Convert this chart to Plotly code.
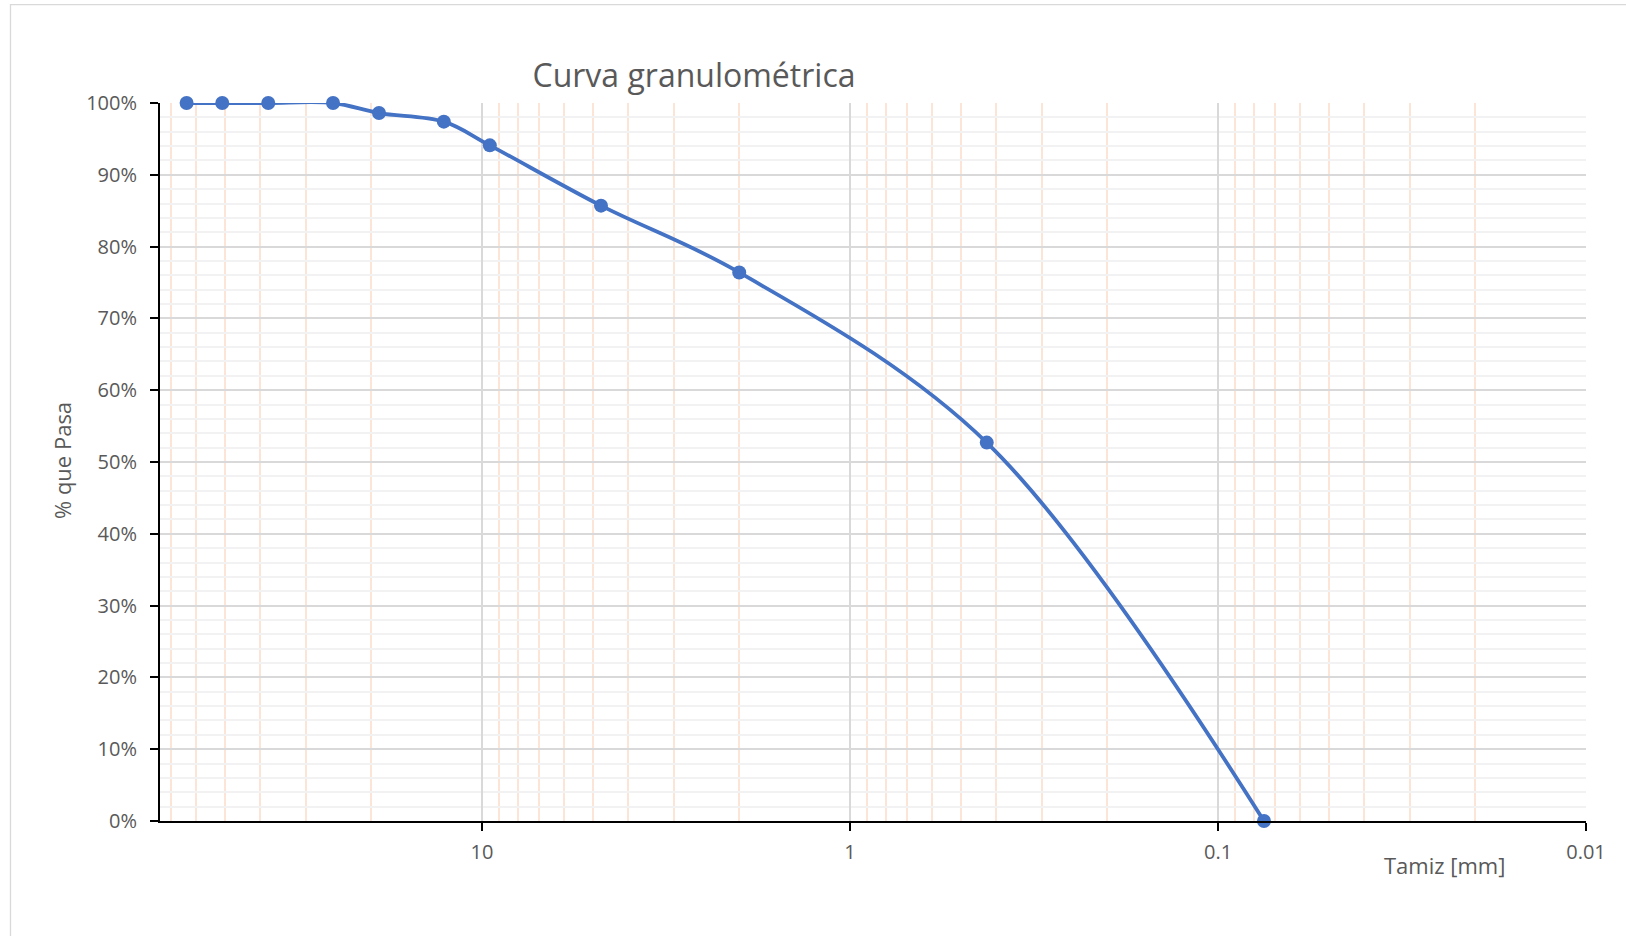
import math
import plotly.graph_objects as go

# abertura del tamiz [mm] y porcentaje que pasa
tamiz_mm = [63.5, 50.8, 38.1, 25.4, 19.05, 12.7, 9.525, 4.75, 2.0, 0.425, 0.075]
pasa = [1.0, 1.0, 1.0, 1.0, 0.986, 0.974, 0.941, 0.857, 0.764, 0.527, 0.0]

x_ticks = [10, 1, 0.1, 0.01]
x_ticktext = ["10", "1", "0.1", "0.01"]
x_max = 75

# minor grid (2..9 per decade)
minor_vals = [m * 10 ** e for e in (-2, -1, 0, 1) for m in range(2, 10) if m * 10 ** e < x_max]

W, H = 1626, 936
L, R, T, B = 160, 40, 103, 115
pw, ph = W - L - R, H - T - B

gris = "#595959"
fuente = "Open Sans, Liberation Sans, sans-serif"

fig = go.Figure()
fig.add_trace(go.Scatter(
    x=tamiz_mm, y=pasa,
    mode="lines+markers",
    line=dict(color="#4472C4", width=3.8, shape="spline", smoothing=1),
    marker=dict(color="#4472C4", size=14),
    cliponaxis=False,
    showlegend=False,
))

fig.update_layout(
    width=W, height=H,
    margin=dict(l=L, r=R, t=T, b=B),
    paper_bgcolor="white", plot_bgcolor="white",
    font=dict(family=fuente, color=gris, size=20),
    title=dict(text="Curva granulométrica", x=694 / W, y=1 - 76 / H,
               xref="container", yref="container", xanchor="center", yanchor="middle",
               font=dict(size=32, color=gris, family=fuente)),
    xaxis=dict(
        type="log", range=[math.log10(x_max), -2],
        tickvals=x_ticks, ticktext=x_ticktext,
        showgrid=True, gridcolor="#d9d9d9", gridwidth=1.6,
        minor=dict(tickvals=minor_vals, showgrid=True, gridcolor="#fce4d6", gridwidth=1.6, ticks=""),
        showline=True, linecolor="black", linewidth=2,
        ticks="outside", ticklen=8, tickcolor="black", tickwidth=1.5,
        ticklabelstandoff=4,
        zeroline=False, tickfont=dict(size=20, color=gris),
    ),
    yaxis=dict(
        range=[0, 1], dtick=0.1, tickformat=".0%",
        showgrid=True, gridcolor="#d9d9d9", gridwidth=1.6,
        minor=dict(dtick=0.02, showgrid=True, gridcolor="#f2f2f2", gridwidth=1.6, ticks=""),
        showline=True, linecolor="black", linewidth=2,
        ticks="outside", ticklen=8, tickcolor="black", tickwidth=1.5,
        ticklabelstandoff=9,
        zeroline=False, tickfont=dict(size=20, color=gris),
    ),
)

fig.add_annotation(text="% que Pasa", xref="paper", yref="paper",
                   x=(62 - L) / pw, y=(H - B - 461) / ph, textangle=-90,
                   xanchor="center", yanchor="middle",
                   showarrow=False, font=dict(size=22, color=gris))
fig.add_annotation(text="Tamiz [mm]", xref="paper", yref="paper",
                   x=(1444 - L) / pw, y=(H - B - 865) / ph,
                   xanchor="center", yanchor="middle",
                   showarrow=False, font=dict(size=22, color=gris))

# borde del área del gráfico
fig.add_shape(type="rect", xref="paper", yref="paper",
              x0=(10.5 - L) / pw, x1=(W + 20 - L) / pw,
              y0=(H - B - (H + 20)) / ph, y1=(H - B - 4.7) / ph,
              line=dict(color="#d9d9d9", width=1.3), layer="below")

fig.write_html("out.html", config={"displayModeBar": False},
               post_script="document.body.style.margin='0';document.body.style.overflow='hidden';")
